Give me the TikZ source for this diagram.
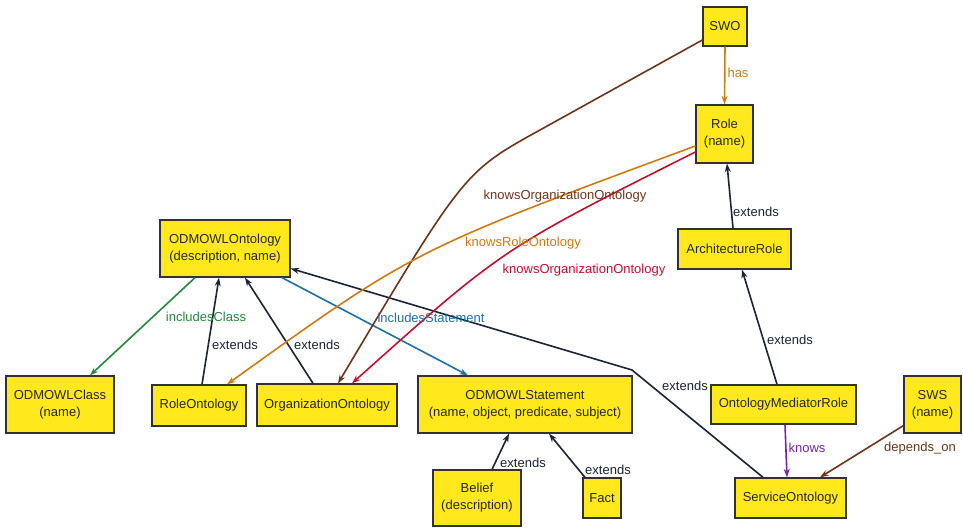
\documentclass[tikz,border=0pt]{standalone}
\usepackage{fontspec}
\setmainfont{Liberation Sans}
\usetikzlibrary{arrows.meta}

\definecolor{boxfill}{RGB}{255,232,28}
\definecolor{boxline}{RGB}{50,50,50}
\definecolor{extcol}{RGB}{26,36,54}
\definecolor{orangecol}{RGB}{208,122,16}
\definecolor{browncol}{RGB}{110,52,24}
\definecolor{redcol}{RGB}{196,16,44}
\definecolor{greencol}{RGB}{34,138,58}
\definecolor{bluecol}{RGB}{30,110,170}
\definecolor{purplecol}{RGB}{118,36,168}

\tikzset{
  cls/.style={draw=boxline, line width=1.3pt, fill=boxfill, inner sep=0pt,
    align=center, text=black!85, font=\fontsize{13}{17}\selectfont},
  lbl/.style={inner sep=0pt, font=\fontsize{13}{17}\selectfont},
  rel/.style={line width=1.6pt, -{Stealth[length=8.5pt,width=6pt]}},
  extends/.style={rel, draw=extcol},
}

\begin{document}
\begin{tikzpicture}[x=1pt, y=-1pt]
\useasboundingbox (0,0) rectangle (963,527);

% classes
\node[cls, minimum width=44, minimum height=39] (swo) at (725,26.5) {SWO};
\node[cls, minimum width=57, minimum height=58] (role) at (724.5,134) {Role\\(name)};
\node[cls, minimum width=113, minimum height=40] (arch) at (734.5,249) {ArchitectureRole};
\node[cls, minimum width=130, minimum height=57] (odo) at (225,248.5) {ODMOWLOntology\\(description, name)};
\node[cls, minimum width=108, minimum height=57] (omc) at (60,404.5) {ODMOWLClass\\(name)};
\node[cls, minimum width=94, minimum height=41] (ro) at (199,405.5) {RoleOntology};
\node[cls, minimum width=140, minimum height=42] (oo) at (327,405) {OrganizationOntology};
\node[cls, minimum width=214, minimum height=57] (ods) at (525,404.5) {ODMOWLStatement\\(name, object, predicate, subject)};
\node[cls, minimum width=88, minimum height=56] (belief) at (477,498) {Belief\\(description)};
\node[cls, minimum width=38, minimum height=40] (fact) at (602,498) {Fact};
\node[cls, minimum width=145, minimum height=39] (omr) at (783.5,404.5) {OntologyMediatorRole};
\node[cls, minimum width=57, minimum height=57] (sws) at (932.5,404.5) {SWS\\(name)};
\node[cls, minimum width=111, minimum height=40] (so) at (790.5,498) {ServiceOntology};

% bend points of routed connectors
\coordinate (sobend) at (632,370);
\coordinate (swobend) at (540,130);

% generalisations
\draw[extends] ([xshift=-1.5pt]arch.north) -- ([xshift=2.5pt]role.south);
\draw[extends] ([xshift=-6.5pt]omr.north) -- ([xshift=7.5pt]arch.south);
\draw[extends] ([xshift=-27.5pt]so.north) -- (sobend) -- ([yshift=-20pt]odo.east);
\draw[extends] ([xshift=3pt]ro.north) -- ([xshift=-6pt]odo.south);
\draw[extends] ([xshift=-14pt]oo.north) -- ([xshift=20pt]odo.south);
\draw[extends] ([xshift=15pt]belief.north) -- ([xshift=-16pt]ods.south);
\draw[extends] ([xshift=-17pt]fact.north) -- ([xshift=24pt]ods.south);

% associations
\draw[rel, draw=orangecol] (swo.south) -- (role.north);
\draw[rel, draw=purplecol] ([xshift=1.5pt]omr.south) -- ([xshift=-3.5pt]so.north);
\draw[rel, draw=browncol] ([yshift=8pt]sws.south west) -- ([xshift=29.5pt]so.north);
\draw[rel, draw=greencol] ([xshift=-30pt]odo.south) -- ([xshift=30pt]omc.north);
\draw[rel, draw=bluecol] ([xshift=57pt]odo.south) -- ([xshift=-57pt]ods.north);
\draw[rel, draw=browncol] ([yshift=-13.5pt]swo.west) -- (swobend)
  .. controls (464,172) .. ([xshift=11pt]oo.north);
\draw[rel, draw=orangecol] ([yshift=-12pt]role.west)
  .. controls (414,250) and (414,250) .. ([xshift=28pt]ro.north);
\draw[rel, draw=redcol] ([yshift=-18pt]role.west)
  .. controls (502,249) and (502,249) .. ([xshift=25pt]oo.north);

% connector labels
\node[lbl, text=orangecol] (lhas) at (738,73) {has};
\node[lbl, text=extcol] (lext1) at (756,212) {extends};
\node[lbl, text=extcol] (lext2) at (790,340) {extends};
\node[lbl, text=purplecol] (lknows) at (807,448) {knows};
\node[lbl, text=browncol] (ldep) at (920,448) {depends\_on};
\node[lbl, text=extcol] (lext3) at (685,386) {extends};
\node[lbl, text=greencol] (lincc) at (206,317) {includesClass};
\node[lbl, text=extcol] (lext4) at (235,345) {extends};
\node[lbl, text=extcol] (lext5) at (317,345) {extends};
\node[lbl, text=bluecol] (lincs) at (431,318) {includesStatement};
\node[lbl, text=extcol] (lext6) at (523,463) {extends};
\node[lbl, text=extcol] (lext7) at (608,470) {extends};
\node[lbl, text=browncol] (lkoo1) at (565,196) {knowsOrganizationOntology};
\node[lbl, text=orangecol] (lkro) at (523,243) {knowsRoleOntology};
\node[lbl, text=redcol] (lkoo2) at (584,270) {knowsOrganizationOntology};
\end{tikzpicture}
\end{document}
